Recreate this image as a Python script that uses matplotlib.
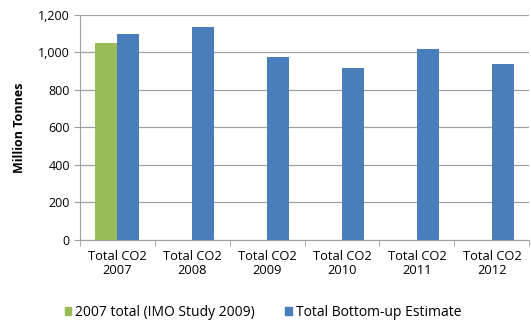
import numpy as np
import matplotlib.pyplot as plt
from matplotlib.patches import Patch

categories = ["Total CO2\n2007", "Total CO2\n2008", "Total CO2\n2009",
              "Total CO2\n2010", "Total CO2\n2011", "Total CO2\n2012"]
imo_2009 = [1050, np.nan, np.nan, np.nan, np.nan, np.nan]
bottom_up = [1100, 1135, 975, 915, 1018, 938]

green = "#9bbb59"
blue = "#4a7ebb"

plt.rcParams["font.family"] = ["Open Sans", "DejaVu Sans"]

fig = plt.figure(figsize=(5.31, 3.26), dpi=100)
ax = fig.add_axes([0.150, 0.264, 0.847, 0.690])

x = np.arange(len(categories))
w = 0.29
ax.bar(x - w / 2, imo_2009, w, color=green, zorder=3)
ax.bar(x + w / 2, bottom_up, w, color=blue, zorder=3)

ax.set_xlim(-0.5, len(categories) - 0.5)
ax.set_ylim(0, 1200)
ax.set_yticks(range(0, 1201, 200))
ax.set_yticklabels([f"{v:,}" for v in range(0, 1201, 200)], fontsize=9)
ax.yaxis.grid(True, color="#a0a0a0", linewidth=0.9, zorder=0)

ax.set_xticks(x)
ax.set_xticklabels(categories, fontsize=9.3, linespacing=1.15)
ax.tick_params(axis="x", length=0, pad=7)
ax.set_xticks(np.arange(-0.5, len(categories)), minor=True)
ax.tick_params(axis="x", which="minor", length=4, color="#a0a0a0")
ax.tick_params(axis="y", length=4, color="#a0a0a0", pad=3)

for s in ["top", "right"]:
    ax.spines[s].set_visible(False)
for s in ["left", "bottom"]:
    ax.spines[s].set_color("#a0a0a0")

ax.set_ylabel("Million Tonnes", fontsize=9, fontweight="bold", labelpad=9)

handles = [Patch(color=green, label="2007 total (IMO Study 2009)"),
           Patch(color=blue, label="Total Bottom-up Estimate")]
fig.legend(handles=handles, loc="lower left", bbox_to_anchor=(0.098, -0.02),
           ncol=2, frameon=False, fontsize=10, handlelength=0.45,
           handleheight=0.45, handletextpad=0.3, columnspacing=2.2)

fig.savefig("out.png", dpi=100)
